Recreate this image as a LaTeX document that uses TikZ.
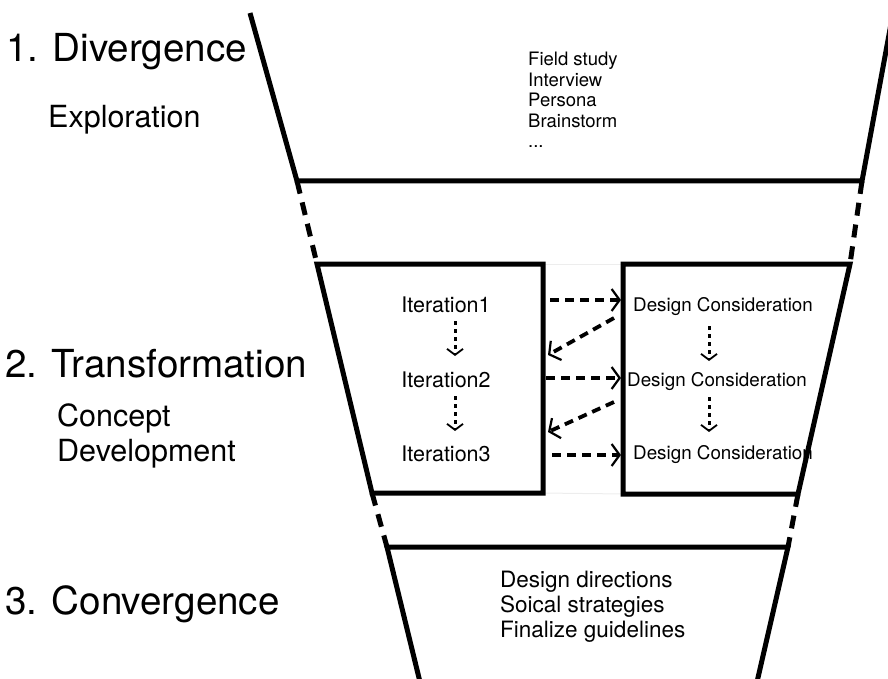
\documentclass[tikz,border=0pt]{standalone}
\usepackage{fontspec}
\setmainfont{TeX Gyre Heros}
\usetikzlibrary{arrows.meta}
\begin{document}
\begin{tikzpicture}[x=1pt,y=-1pt,
  wall/.style={line width=5pt,line join=miter,line cap=butt},
  gapwall/.style={line width=5pt,dash pattern=on 13pt off 9pt},
  faint/.style={line width=1pt,draw=black!7},
  stage/.style={inner sep=0pt,anchor=base west,font=\fontsize{38.6}{40}\selectfont},
  sub/.style={inner sep=0pt,anchor=base west,font=\fontsize{30.5}{32}\selectfont},
  item/.style={inner sep=0pt,anchor=base west,font=\fontsize{18.5}{20}\selectfont},
  outcome/.style={inner sep=0pt,anchor=base west,font=\fontsize{22.5}{24}\selectfont},
  iter/.style={inner sep=0pt,anchor=base,font=\fontsize{21.5}{23}\selectfont},
  cons/.style={inner sep=0pt,anchor=base west,font=\fontsize{18.8}{20}\selectfont},
  flow/.style={line width=3.8pt,dash pattern=on 9pt off 6pt,
    -{Straight Barb[length=8pt,width=22pt,line width=2.2pt]}},
  next/.style={line width=3pt,dash pattern=on 4pt off 4pt,
    -{Straight Barb[length=6pt,width=16pt,line width=1.8pt]}}]
\useasboundingbox (0,0) rectangle (888,679);
\clip (0,0) rectangle (888,679);

% funnel corners
\coordinate (T1) at (250,13);
\coordinate (T2) at (297,181);
\coordinate (T3) at (862,181);
\coordinate (T4) at (893,13);
\coordinate (M1) at (317,264);
\coordinate (M2) at (372,493);
\coordinate (M3) at (543,493);
\coordinate (M4) at (543,264);
\coordinate (R1) at (623,264);
\coordinate (R2) at (850,264);
\coordinate (R3) at (798,494);
\coordinate (R4) at (623,494);
\coordinate (B1) at (387,547);
\coordinate (B2) at (788,547);
\coordinate (B3) at (757,682);
\coordinate (B4) at (420,682);

% faint outlines between the solid parts
\draw[faint] (M4) -- (R1);
\draw[faint] (M3) -- (R4);
\draw[faint] (B4) -- (B3);

% top section
\draw[wall] (T1) -- (T2) -- (T3) -- (T4);
% dashed joins
\draw[gapwall] (T2) -- (M1);
\draw[gapwall] (T3) -- (R2);
\draw[gapwall] (M2) -- (B1);
\draw[gapwall] (R3) -- (B2);
% middle boxes
\draw[wall] (M1) -- (M4) -- (M3) -- (M2) -- cycle;
\draw[wall] (R1) -- (R2) -- (R3) -- (R4) -- cycle;
% bottom section
\draw[wall] (B4) -- (B1) -- (B2) -- (B3);

% stage labels
\node[stage] (s1) at (6,62) {1. Divergence};
\node[sub] (s1a) at (48,128) {Exploration};
\node[stage] (s2) at (5,377) {2. Transformation};
\node[sub] (s2a) at (57,426) {Concept};
\node[sub] (s2b) at (57,461) {Development};
\node[stage] (s3) at (5,614) {3. Convergence};

% methods of the first stage
\node[item] (f1) at (528,66) {Field study};
\node[item] (f2) at (528,86.5) {Interview};
\node[item] (f3) at (528,107) {Persona};
\node[item] (f4) at (528,127.5) {Brainstorm};
\node[item] (f5) at (528,148) {...};

% results of the last stage
\node[outcome] (o1) at (500,587) {Design directions};
\node[outcome] (o2) at (500,612) {Soical strategies};
\node[outcome] (o3) at (500,637) {Finalize guidelines};

% iterations
\node[iter] (i1) at (446,312) {Iteration1};
\node[iter] (i2) at (446,387) {Iteration2};
\node[iter] (i3) at (446,461) {Iteration3};
\coordinate (i1b) at (455,321);
\coordinate (i2t) at (455,356);
\coordinate (i2b) at (455,396);
\coordinate (i3t) at (455,431);
\draw[next] (i1b) -- (i2t);
\draw[next] (i2b) -- (i3t);

% design considerations
\node[cons] (d1) at (633,311) {Design Consideration};
\node[cons] (d2) at (627,386) {Design Consideration};
\node[cons] (d3) at (633,459) {Design Consideration};
\coordinate (d1b) at (709,326);
\coordinate (d2t) at (709,361);
\coordinate (d2b) at (709,397);
\coordinate (d3t) at (709,432);
\draw[next] (d1b) -- (d2t);
\draw[next] (d2b) -- (d3t);

% exchanges between the two boxes
\coordinate (a1) at (550,300);
\coordinate (b1) at (621,300);
\coordinate (b1r) at (614,318);
\coordinate (a2) at (548,355);
\coordinate (a2o) at (546,378);
\coordinate (b2) at (621,378);
\coordinate (b2r) at (614,402);
\coordinate (a3) at (548,432);
\coordinate (a3o) at (552,455);
\coordinate (b3) at (621,455);
\draw[flow] (a1) -- (b1);
\draw[flow] (b1r) -- (a2);
\draw[flow] (a2o) -- (b2);
\draw[flow] (b2r) -- (a3);
\draw[flow] (a3o) -- (b3);
\end{tikzpicture}
\end{document}
